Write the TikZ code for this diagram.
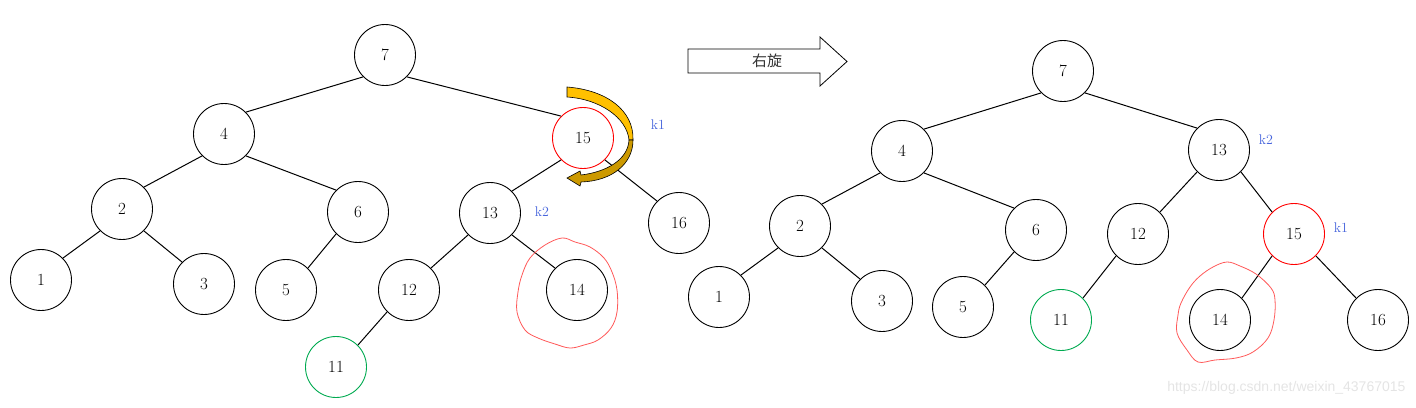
\documentclass[tikz,border=0pt]{standalone}
\usepackage{fontspec}
\newfontfamily\cjk{Noto Sans CJK SC}
\newfontfamily\wmfont{Liberation Sans}
\definecolor{kblue}{RGB}{70,100,220}
\definecolor{rgreen}{RGB}{0,170,80}
\definecolor{arrowyellow}{RGB}{255,192,0}
\definecolor{arrowgold}{RGB}{204,153,0}
\definecolor{wmgray}{RGB}{228,228,228}
\tikzset{
  tn/.style={circle,draw=black,line width=0.9pt,minimum size=61pt,inner sep=0pt,font=\fontsize{17}{19}\selectfont},
  redn/.style={tn,draw=red},
  greenn/.style={tn,draw=rgreen},
  edge/.style={line width=1pt},
  klabel/.style={text=kblue,font=\fontsize{14}{16}\selectfont},
  scribble/.style={draw=red!65,line width=0.8pt},
}
\begin{document}
\begin{tikzpicture}[x=1pt,y=-1pt]
\useasboundingbox (0,0) rectangle (1416,407);
% left tree
\node[tn] (L7) at (385,55) {7};
\node[tn] (L4) at (224,134) {4};
\node[redn] (L15) at (583,138) {15};
\node[tn] (L2) at (122,209) {2};
\node[tn] (L6) at (358,212) {6};
\node[tn] (L13) at (490,213) {13};
\node[tn] (L16) at (679,223) {16};
\node[tn] (L1) at (41,280) {1};
\node[tn] (L3) at (204,284) {3};
\node[tn] (L5) at (286,290) {5};
\node[tn] (L12) at (409,290) {12};
\node[tn] (L14) at (577,290) {14};
\node[greenn] (L11) at (336,367) {11};
\draw[edge] (L7.south west)--(L4.north east); \draw[edge] (L7.south east)--(L15.north west);
\draw[edge] (L4.south west)--(L2.north east); \draw[edge] (L4.south east)--(L6.north west);
\draw[edge] (L2.south west)--(L1.north east); \draw[edge] (L2.south east)--(L3.north west);
\draw[edge] (L6.south west)--(L5.north east);
\draw[edge] (L15.south west)--(L13.north east); \draw[edge] (L15.south east)--(L16.north west);
\draw[edge] (L13.south west)--(L12.north east); \draw[edge] (L13.south east)--(L14.north west);
\draw[edge] (L12.south west)--(L11.north east);
\node[klabel] (LK1) at (658,125) {k1};
\node[klabel] (LK2) at (542,212) {k2};
% rotation arrow
\path[fill=arrowyellow,draw=black,line width=0.6pt]
  (567,87) .. controls (606,90) and (634,110) .. (633,140)
  -- (629,140) .. controls (627,118) and (600,99) .. (567,97) -- cycle;
\path[fill=arrowgold,draw=black,line width=0.6pt]
  (633,140) .. controls (633,164) and (612,181) .. (581,182)
  -- (580,186) -- (567,178) -- (580,171) -- (581,175)
  .. controls (606,172) and (628,160) .. (629,140) -- cycle;
\draw[scribble] plot[smooth cycle,tension=0.6] coordinates {(562,238) (575,242) (590,247) (604,258) (612,272) (617,290) (617,312) (611,328) (598,340) (584,345) (570,348) (555,344) (538,338) (525,330) (517,312) (518,292) (522,275) (530,258) (545,245)};
% big arrow
\draw[line width=0.8pt,fill=white] (688,49) -- (820,49) -- (820,37) -- (847,61.5) -- (820,86) -- (820,73) -- (688,73) -- cycle;
\node[font=\cjk\fontsize{15}{17}\selectfont,text=black!80] (RA) at (767,61) {右旋};
% right tree
\node[tn] (R7) at (1063,71) {7};
\node[tn] (R4) at (902,151) {4};
\node[tn] (R13) at (1219,150) {13};
\node[tn] (R2) at (800,226) {2};
\node[tn] (R6) at (1036,230) {6};
\node[tn] (R12) at (1138,234) {12};
\node[redn] (R15) at (1294,234) {15};
\node[tn] (R1) at (719,297) {1};
\node[tn] (R3) at (882,301) {3};
\node[tn] (R5) at (963,307) {5};
\node[greenn] (R11) at (1061,320) {11};
\node[tn] (R14) at (1220,320) {14};
\node[tn] (R16) at (1378,320) {16};
\draw[edge] (R7.south west)--(R4.north east); \draw[edge] (R7.south east)--(R13.north west);
\draw[edge] (R4.south west)--(R2.north east); \draw[edge] (R4.south east)--(R6.north west);
\draw[edge] (R2.south west)--(R1.north east); \draw[edge] (R2.south east)--(R3.north west);
\draw[edge] (R6.south west)--(R5.north east);
\draw[edge] (R13.south west)--(R12.north east); \draw[edge] (R13.south east)--(R15.north west);
\draw[edge] (R12.south west)--(R11.north east);
\draw[edge] (R15.south west)--(R14.north east); \draw[edge] (R15.south east)--(R16.north west);
\node[klabel] (RK2) at (1266,140) {k2};
\node[klabel] (RK1) at (1341,228) {k1};
\draw[scribble] plot[smooth cycle,tension=0.6] coordinates {(1227,262) (1240,266) (1256,274) (1271,288) (1275,300) (1274,320) (1268,338) (1253,352) (1236,358) (1215,360) (1198,362) (1187,350) (1177,333) (1178,315) (1181,303) (1190,287) (1200,276) (1213,267)};
% watermark
\node[anchor=east,text=wmgray,font=\wmfont\fontsize{14}{16}\selectfont] (WM) at (1409,388) {https://blog.csdn.net/weixin\_43767015};
\end{tikzpicture}
\end{document}
